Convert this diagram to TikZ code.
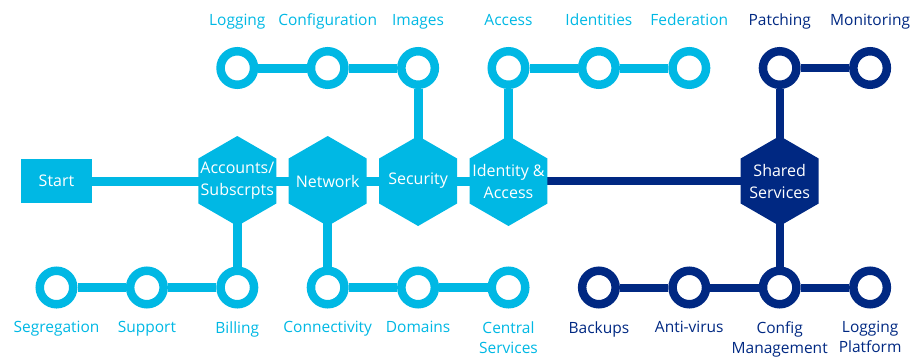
\documentclass[tikz,border=0pt]{standalone}
\usepackage{fontspec}
\setmainfont{Open Sans}
\usetikzlibrary{shapes.geometric,positioning,backgrounds}
\definecolor{cyanline}{RGB}{0,184,228}
\definecolor{navyline}{RGB}{0,40,130}

\begin{document}
\begin{tikzpicture}[x=1pt,y=-1pt]
\tikzstyle{hexa}=[regular polygon, regular polygon sides=6, regular polygon rotate=30, minimum size=90pt, inner sep=0pt, outer sep=0pt]
\tikzstyle{hextext}=[text=white, align=center, inner sep=0pt, font=\fontsize{16}{22}\selectfont]
\tikzstyle{station}=[circle, draw, fill=white, line width=8.5pt, minimum size=33.5pt, inner sep=0pt]
\tikzstyle{lbl}=[inner sep=0pt, outer sep=0pt, align=center, font=\fontsize{15.5}{20}\selectfont]
\tikzstyle{toplbl}=[lbl, text depth=4pt]
\tikzstyle{lightline}=[cyanline, line width=9pt]
\tikzstyle{darkline}=[navyline, line width=8pt]
\useasboundingbox (0,0) rectangle (917,361);

% main line
\node[fill=cyanline, text=white, minimum width=71pt, minimum height=44pt, font=\fontsize{16}{22}\selectfont] (start) at (56.5,181) {Start};
\node[hexa, fill=cyanline, label={[hextext]center:Accounts/\\Subscrpts}] (accounts) at (237.3,181) {};
\node[hexa, fill=cyanline, label={[hextext]center:Network}] (network) at (327.7,181) {};
\node[hexa, fill=cyanline, label={[hextext]center:Security}] (security) at (418.1,181) {};
\node[hexa, fill=cyanline, label={[hextext]center:Identity \&\\Access}] (identity) at (508.5,181) {};
\node[hexa, fill=navyline, label={[hextext]center:Shared\\Services}] (shared) at (779.7,181) {};

% top stations
\node[station, draw=cyanline] (logging) at (237.3,68) {};
\node[station, draw=cyanline] (config) at (327.7,68) {};
\node[station, draw=cyanline] (images) at (418.1,68) {};
\node[station, draw=cyanline] (access) at (508.5,68) {};
\node[station, draw=cyanline] (identities) at (598.9,68) {};
\node[station, draw=cyanline] (federation) at (689.3,68) {};
\node[station, draw=navyline] (patching) at (779.7,68) {};
\node[station, draw=navyline] (monitoring) at (870.1,68) {};

\node[toplbl, text=cyanline, above=17pt of logging] {Logging};
\node[toplbl, text=cyanline, above=17pt of config] {Configuration};
\node[toplbl, text=cyanline, above=17pt of images] {Images};
\node[toplbl, text=cyanline, above=17pt of access] {Access};
\node[toplbl, text=cyanline, above=17pt of identities] {Identities};
\node[toplbl, text=cyanline, above=17pt of federation] {Federation};
\node[toplbl, text=navyline, above=17pt of patching] {Patching};
\node[toplbl, text=navyline, above=17pt of monitoring] {Monitoring};

% bottom stations
\node[station, draw=cyanline] (segregation) at (56.5,287.5) {};
\node[station, draw=cyanline] (support) at (146.9,287.5) {};
\node[station, draw=cyanline] (billing) at (237.3,287.5) {};
\node[station, draw=cyanline] (connectivity) at (327.7,287.5) {};
\node[station, draw=cyanline] (domains) at (418.1,287.5) {};
\node[station, draw=cyanline] (central) at (508.5,287.5) {};
\node[station, draw=navyline] (backups) at (598.9,287.5) {};
\node[station, draw=navyline] (antivirus) at (689.3,287.5) {};
\node[station, draw=navyline] (configmgmt) at (779.7,287.5) {};
\node[station, draw=navyline] (loggingplat) at (870.1,287.5) {};

\node[lbl, text=cyanline, below=13pt of segregation] {Segregation};
\node[lbl, text=cyanline, below=13pt of support] {Support};
\node[lbl, text=cyanline, below=13pt of billing] {Billing};
\node[lbl, text=cyanline, below=13pt of connectivity] {Connectivity};
\node[lbl, text=cyanline, below=13pt of domains] {Domains};
\node[lbl, text=cyanline, below=13pt of central] {Central\\Services};
\node[lbl, text=navyline, below=13pt of backups] {Backups};
\node[lbl, text=navyline, below=13pt of antivirus] {Anti-virus};
\node[lbl, text=navyline, below=13pt of configmgmt] {Config\\Management};
\node[lbl, text=navyline, below=13pt of loggingplat] {Logging\\Platform};

% tracks
\begin{scope}[on background layer]
\draw[lightline] (start.center) -- (accounts.center) -- (network.center) -- (security.center) -- (identity.center);
\draw[darkline] (identity.center) -- (shared.center);
\draw[lightline] (logging) -- (config) -- (images) -- (security.center);
\draw[lightline] (federation) -- (identities) -- (access) -- (identity.center);
\draw[darkline] (monitoring) -- (patching) -- (shared.center);
\draw[lightline] (segregation) -- (support) -- (billing) -- (accounts.center);
\draw[lightline] (central) -- (domains) -- (connectivity) -- (network.center);
\draw[darkline] (backups) -- (antivirus) -- (configmgmt) -- (loggingplat);
\draw[darkline] (configmgmt) -- (shared.center);
\end{scope}
\end{tikzpicture}
\end{document}
